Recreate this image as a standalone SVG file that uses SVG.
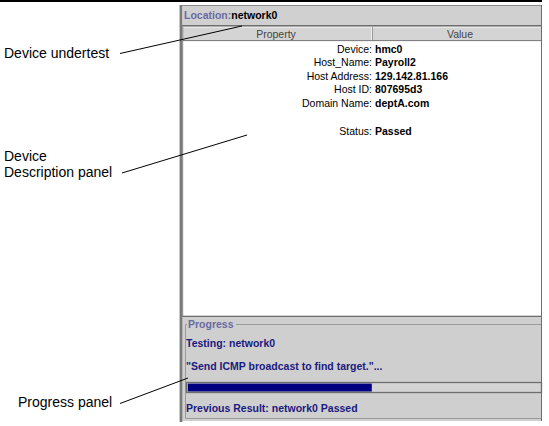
<svg xmlns="http://www.w3.org/2000/svg" width="549" height="426" viewBox="0 0 549 426">
<style>
.lbl{font-family:"Liberation Sans",Arial,sans-serif;font-size:14px;fill:#000}
.ui{font-family:"Liberation Sans",Arial,sans-serif;font-size:10.5px}
.prop{fill:#000;text-anchor:end}
.val{fill:#000;font-weight:bold}
.hdr{fill:#444;text-anchor:middle}
.navy{fill:#1a1a80;font-weight:bold}
.title{fill:#6a6aa2;font-weight:bold}
.dark{stroke:#6e6e6e;fill:none}
.conn{stroke:#000;stroke-width:1;fill:none}
</style>
<rect width="549" height="426" fill="#fff"/>
<line x1="0" y1="1" x2="542" y2="1" stroke="#000" stroke-width="2"/>

<g id="window">
  <rect x="180" y="5" width="361" height="416" fill="#cfcfcf"/>
  <line x1="180" y1="5.5" x2="541" y2="5.5" stroke="#8a8a8a"/>
  <line x1="179.5" y1="5" x2="179.5" y2="422" stroke="#c8c8c8"/>
  <rect x="180" y="5" width="2.3" height="417" fill="#7a7a7a"/>
  <line x1="541.5" y1="5" x2="541.5" y2="421" stroke="#6e6e6e"/>
</g>

<g id="location-bar">
  <rect x="182.3" y="6" width="358.7" height="19" fill="#d0d0d0"/>
  <line x1="182" y1="25.8" x2="541" y2="25.8" stroke="#6e6e6e" stroke-width="1.5"/>
  <text class="ui" x="184" y="19"><tspan class="title">Location:</tspan><tspan font-weight="bold" fill="#000">network0</tspan></text>
</g>

<g id="device-description-panel">
  <rect x="182.3" y="27" width="358.7" height="13.5" fill="#d4d4d4"/>
  <line x1="182.3" y1="27.3" x2="541" y2="27.3" stroke="#ececec"/>
  <line x1="182.8" y1="27" x2="182.8" y2="316" stroke="#8a8a8a"/>
  <line x1="371.5" y1="27" x2="371.5" y2="40.5" stroke="#f0f0f0"/>
  <line x1="372.5" y1="27" x2="372.5" y2="40.5" stroke="#9a9a9a"/>
  <text class="ui hdr" x="276" y="37.5">Property</text>
  <text class="ui hdr" x="460" y="37.5">Value</text>
  <line x1="182.3" y1="40.7" x2="541" y2="40.7" stroke="#6e6e6e"/>
  <rect x="183.3" y="41.2" width="357.7" height="274.6" fill="#fff"/>
  <text class="ui prop" x="372" y="52.5">Device:</text>
  <text class="ui val" x="375" y="52.5">hmc0</text>
  <text class="ui prop" x="372" y="65.5">Host_Name:</text>
  <text class="ui val" x="375" y="65.5">Payroll2</text>
  <text class="ui prop" x="372" y="79.5">Host Address:</text>
  <text class="ui val" x="375" y="79.5">129.142.81.166</text>
  <text class="ui prop" x="372" y="92.5">Host ID:</text>
  <text class="ui val" x="375" y="92.5">807695d3</text>
  <text class="ui prop" x="372" y="106.5">Domain Name:</text>
  <text class="ui val" x="375" y="106.5">deptA.com</text>
  <text class="ui prop" x="372" y="134.5">Status:</text>
  <text class="ui val" x="375" y="134.5">Passed</text>
  <line x1="182.3" y1="316.3" x2="541" y2="316.3" stroke="#6e6e6e" stroke-width="1.2"/>
</g>

<g id="progress-panel">
  <path d="M187 324.5 H185.5 V418.5 H541 M236 324.5 H541" stroke="#9a9a9a" fill="none"/>
  <text class="ui title" x="188" y="328">Progress</text>
  <text class="ui navy" x="186" y="347">Testing: network0</text>
  <text class="ui navy" x="186" y="370">"Send ICMP broadcast to find target."...</text>
  <rect x="186.5" y="382.5" width="355" height="10" fill="#d4d4d4" stroke="#6e6e6e" stroke-width="1.3"/>
  <rect x="187.8" y="383.6" width="184" height="7.9" fill="#000080"/>
  <text class="ui navy" x="186" y="412">Previous Result: network0 Passed</text>
</g>

<g id="label-device-under-test">
  <text class="lbl" x="4" y="58">Device undertest</text>
</g>
<g id="label-device-description">
  <text class="lbl" x="4" y="161">Device</text>
  <text class="lbl" x="4" y="177">Description panel</text>
</g>
<g id="label-progress-panel">
  <text class="lbl" x="18" y="407">Progress panel</text>
</g>

<g id="connectors">
  <line class="conn" x1="120" y1="53.5" x2="242" y2="26"/>
  <line class="conn" x1="122" y1="173" x2="247" y2="135"/>
  <line class="conn" x1="120" y1="403.5" x2="188" y2="378"/>
</g>
</svg>
